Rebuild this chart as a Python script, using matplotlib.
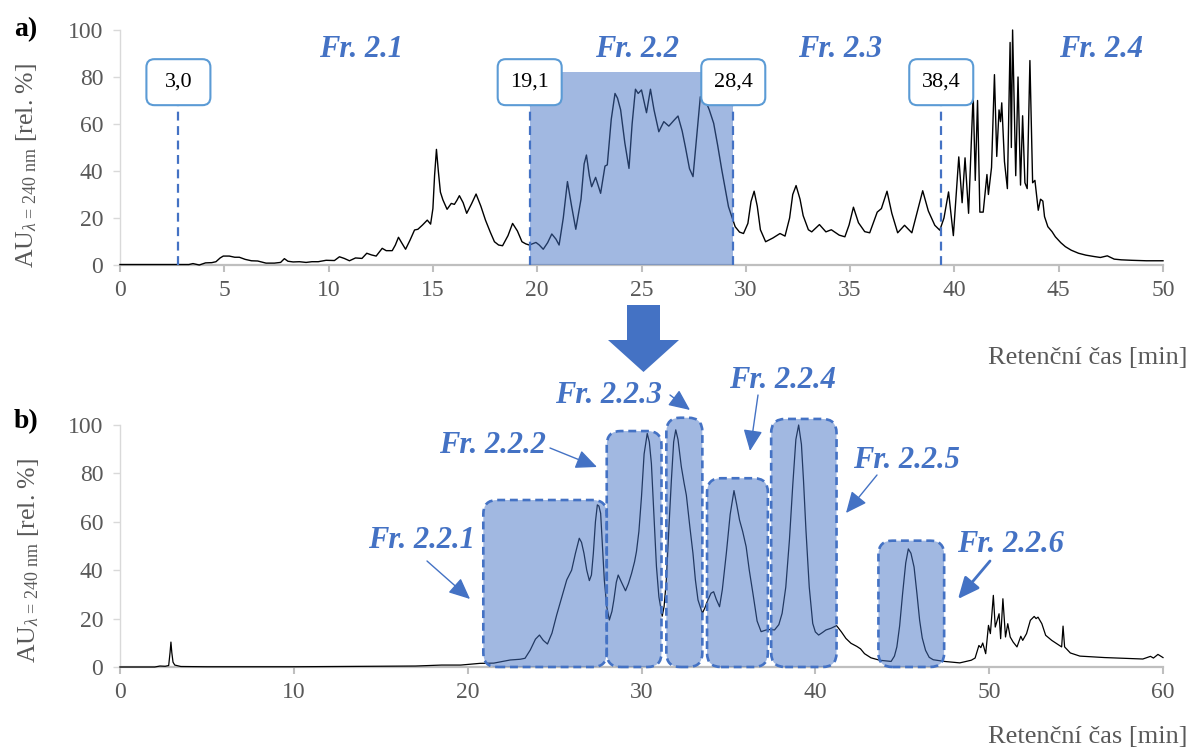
import matplotlib
matplotlib.use('Agg')
import matplotlib.pyplot as plt
from matplotlib.patches import FancyBboxPatch, Rectangle, Polygon

# ---------------- data ----------------
# Panel a: chromatogram (time [min], rel. %)
ta = [0, 2.0, 3.3, 3.5, 3.8, 4.1, 4.4, 4.6, 4.8, 4.95, 5.24, 5.5, 5.72, 6.0, 6.3, 6.6, 7.0, 7.4, 7.7,
      7.88, 8.05, 8.3, 8.6, 8.92, 9.2, 9.5, 9.88, 10.28, 10.52, 10.75, 11.0, 11.29, 11.6, 11.83, 12.05,
      12.28, 12.57, 12.76, 13.05, 13.2, 13.35, 13.5, 13.69, 13.9, 14.12, 14.28, 14.5, 14.73, 14.89, 15.0,
      15.08, 15.17, 15.26, 15.36, 15.48, 15.68, 15.88, 16.03, 16.15, 16.27, 16.45, 16.62, 16.85, 17.07,
      17.3, 17.52, 17.75, 17.95, 18.15, 18.34, 18.6, 18.82, 19.05, 19.27, 19.45, 19.62, 19.94, 20.1,
      20.29, 20.5, 20.7, 20.9, 21.05, 21.25, 21.45, 21.65, 21.85, 22.1, 22.25, 22.36, 22.5, 22.61, 22.8,
      23.04, 23.25, 23.36, 23.55, 23.73, 23.85, 24.0, 24.2, 24.4, 24.55, 24.71, 24.84, 25.0, 25.24, 25.43,
      25.6, 25.83, 26.07, 26.31, 26.55, 26.75, 26.95, 27.1, 27.3, 27.47, 27.65, 27.82, 28.06, 28.25,
      28.46, 28.65, 28.85, 29.17, 29.49, 29.7, 29.89, 30.1, 30.25, 30.4, 30.55, 30.7, 30.95, 31.3, 31.64,
      31.88, 32.1, 32.25, 32.41, 32.6, 32.75, 33.0, 33.16, 33.53, 33.84, 34.1, 34.48, 34.75, 34.95, 35.16,
      35.4, 35.7, 35.94, 36.3, 36.5, 36.77, 37.0, 37.28, 37.61, 37.96, 38.2, 38.48, 38.75, 39.06, 39.3,
      39.5, 39.72, 39.95, 40.21, 40.37, 40.51, 40.68, 40.9, 41.0, 41.11, 41.22, 41.38, 41.56, 41.63,
      41.78, 41.92, 42.03, 42.14, 42.21, 42.27, 42.4, 42.54, 42.67, 42.73, 42.79, 42.94, 43.05, 43.17,
      43.27, 43.38, 43.49, 43.62, 43.75, 43.86, 44.02, 44.13, 44.24, 44.32, 44.48, 44.68, 44.84, 45.1,
      45.32, 45.6, 45.95, 46.3, 46.7, 47.0, 47.33, 47.66, 48.0, 48.5, 49.2, 50.0]
ya = [0.2, 0.2, 0.2, 0.6, 0.0, 0.9, 1.0, 1.4, 3.0, 3.8, 3.8, 3.3, 3.3, 2.4, 1.8, 1.7, 0.8, 0.8, 1.1,
      2.7, 1.6, 1.3, 1.4, 1.1, 1.4, 1.4, 2.0, 1.9, 3.5, 2.8, 1.8, 3.0, 2.8, 5.0, 4.3,
      3.8, 7.1, 6.1, 6.1, 8.5, 11.8, 9.5, 6.7, 10.5, 14.9, 15.2, 17.0, 19.1, 17.4, 24,
      38, 49.2, 40, 31, 27.7, 23.7, 26.2, 25.8, 27.5, 29.5, 26.5, 22, 26, 30.2,
      25, 19.1, 14, 9.9, 8.5, 8.2, 12.5, 17.7, 14.5, 9.9, 9.0, 8.5, 9.6, 8.5,
      6.7, 9.5, 13.2, 11, 8.5, 20, 35.5, 25, 15.2, 28, 43, 46.8, 38, 33.3, 37.3,
      30.5, 42.1, 42.6, 62, 73, 71, 66, 52, 41.1, 60, 74.8, 73, 74.5, 64.8, 74.8,
      66, 56.7, 61, 59.1, 61.5, 63.4, 57, 50.4, 41, 37.6, 55, 71.6, 70.2, 66,
      60.3, 51, 40.4, 24.8, 16.3, 14, 13.4, 17.7, 27, 31.4, 25, 15, 9.9, 11.5, 13.4,
      12.3, 20, 30, 33.8, 28, 21, 15, 14.1, 17.2, 14.1, 15, 12.7, 12, 17, 24.6,
      18, 14.2, 13.7, 22.5, 24, 31.4, 22, 13.7, 16.9, 13.7, 22, 31.6, 23, 16.9, 14.8,
      20, 31.1, 12.5, 46, 26.5, 45.6, 22, 73, 36, 70, 22.5, 22.5, 38.5, 30,
      41.5, 81, 46.2, 66, 61, 69, 44, 32.5, 94.7, 50, 100, 38, 80, 34,
      63.5, 35, 32.5, 87, 35, 36, 23.3, 28, 27.2, 20.6, 16.3, 14.2, 12, 9.5,
      7.8, 6.3, 5, 4.2, 3.6, 3.2, 3.9, 2.5, 2.2, 2.0, 1.8, 1.8]

# Panel a fraction cut points (dashed lines) and their labels
cut_times = [2.8, 19.64, 29.4, 39.37]
cut_labels = ['3,0', '19,1', '28,4', '38,4']
frac_a_names = ['Fr. 2.1', 'Fr. 2.2', 'Fr. 2.3', 'Fr. 2.4']
collected_a = (19.64, 29.4, 82)  # start, end, height of shaded fraction

# Panel b: chromatogram
tb = [0, 2.0, 2.3, 2.6, 2.8, 2.88, 2.93, 2.98, 3.05, 3.15, 3.5, 5, 10, 15, 17, 18.5, 19.6, 20.7, 21.5,
      22.45, 23.02, 23.3, 23.6, 23.9, 24.13, 24.35, 24.59, 24.85, 25.12, 25.4, 25.7, 25.98, 26.2, 26.42,
      26.55, 26.69, 26.85, 27.0, 27.12, 27.23, 27.35, 27.46, 27.55, 27.65, 27.75, 27.86, 28.0, 28.15,
      28.3, 28.41, 28.55, 28.66, 28.85, 29.08, 29.25, 29.43, 29.6, 29.71, 29.85, 30.0, 30.15, 30.33,
      30.45, 30.57, 30.7, 30.86, 31.0, 31.19, 31.3, 31.43, 31.58, 31.72, 31.85, 31.97, 32.1, 32.29,
      32.45, 32.58, 32.78, 32.96, 33.1, 33.25, 33.5, 33.65, 33.82, 34.0, 34.15, 34.3, 34.49, 34.65,
      34.88, 35.1, 35.32, 35.48, 35.64, 35.82, 36.02, 36.2, 36.41, 36.65, 36.88, 37.17, 37.4, 37.65,
      37.9, 38.09, 38.3, 38.51, 38.7, 38.88, 39.04, 39.2, 39.32, 39.46, 39.65, 39.85, 40.0, 40.19,
      40.4, 40.61, 40.9, 41.22, 41.5, 41.76, 42.05, 42.39, 42.6, 42.83, 43.2, 43.7, 44.36, 44.55,
      44.69, 44.85, 45.02, 45.2, 45.35, 45.5, 45.68, 45.85, 46.0, 46.15, 46.34, 46.55, 46.78, 47.43,
      48.31, 48.97, 49.19, 49.41, 49.52, 49.63, 49.8, 49.96, 50.07, 50.24, 50.35, 50.46, 50.57, 50.66,
      50.79, 50.94, 51.07, 51.21, 51.38, 51.6, 51.82, 51.93, 52.15, 52.37, 52.59, 52.7, 52.81, 53.03,
      53.25, 53.6, 53.9, 54.17, 54.25, 54.34, 54.67, 55.22, 56.64, 58.84, 59.28, 59.45, 59.71, 60.0]
yb = [0, 0, 0.4, 0.3, 0.6, 6, 10.3, 6, 2, 0.8, 0.2, 0.1, 0.1, 0.3, 0.4, 0.8, 0.8, 1.5, 1.6,
      2.9, 3.2, 3.6, 7, 11.5, 13.2, 11, 9.5, 14, 21.5, 28.5, 36, 40, 47, 53.2,
      51.5, 47, 40, 35.7, 38, 47, 60, 67, 66.5, 63.5, 50, 36, 25, 19.4,
      23, 27.7, 35, 38, 35, 31.5, 34.5, 38.7, 43.5, 47.7, 56, 70.4, 88, 96.5,
      93, 84, 65, 41.5, 29, 21, 25, 36, 58, 77.3, 93, 98, 94, 82.8,
      76, 71, 58, 47, 36, 27.7, 22.2, 24.5, 27.7, 30.5, 31.1, 28, 24.9, 32,
      47, 63, 72.9, 67, 60.7, 56, 49.7, 40, 30.4, 19, 14.6, 15.3, 15.5, 15.3,
      17.5, 22.2, 33, 52.5, 75, 94, 100, 92, 77, 56.6, 33, 18, 14.5, 13.2,
      14.2, 15.3, 16, 17.1, 14.5, 11.8, 9.8, 8.5, 7.5, 5.5, 3.8, 2.8, 2.3, 4.5,
      8.3, 17, 30.3, 43, 48.8, 47, 41.3, 30, 19.3, 12, 6.9, 4, 3, 2.3,
      1.7, 2.8, 3.7, 8.9, 8, 9.9, 5.5, 17.2, 13.8, 29.6, 16.5, 19.3, 22, 11.7,
      28.2, 12.4, 17.9, 12.4, 10.3, 8.3, 12.7, 11, 13.8, 19.3, 20.9, 20, 20.6, 17.9,
      13.1, 11, 9.6, 8.3, 16.9, 8.3, 5.8, 4.5, 3.9, 3.3, 4.4, 3.7, 5.2, 3.9]

# Panel b collected sub-fractions (start, end, top)
frac_b_names = ['Fr. 2.2.1', 'Fr. 2.2.2', 'Fr. 2.2.3', 'Fr. 2.2.4', 'Fr. 2.2.5', 'Fr. 2.2.6']
frac_b_start = [20.9, 28.0, 31.43, 33.77, 37.46, 43.63]
frac_b_end = [28.0, 31.15, 33.5, 37.27, 41.22, 47.41]
frac_b_top = [69, 97.5, 103, 78, 102.5, 52.2]

xticks_a = list(range(0, 51, 5))
xticks_b = list(range(0, 61, 10))
yticks = list(range(0, 101, 20))

# ---------------- style ----------------
W, H = 1189, 747
plt.rcParams['font.family'] = ['Liberation Serif', 'DejaVu Serif']
plt.rcParams['mathtext.fontset'] = 'custom'
plt.rcParams['mathtext.rm'] = 'Liberation Serif'
plt.rcParams['mathtext.it'] = 'Liberation Serif:italic'
plt.rcParams['mathtext.bf'] = 'Liberation Serif:bold'

BLUE = '#4472C4'
FILL = (0x44 / 255, 0x72 / 255, 0xC4 / 255, 0.5)
GRAY = '#595959'

fig = plt.figure(figsize=(W / 100, H / 100), dpi=100)


def fpos(l, t, r, b):
    return [l / W, 1 - b / H, (r - l) / W, (b - t) / H]


def fxy(px, py):
    return (px / W, 1 - py / H)


ax1 = fig.add_axes(fpos(120, 30, 1163, 265))
ax2 = fig.add_axes(fpos(120, 425, 1163, 667))


def style(ax, xt):
    ax.set_xlim(xt[0], xt[-1])
    ax.set_ylim(0, 100)
    ax.set_xticks(xt)
    ax.set_yticks(yticks)
    for s in ['top', 'right']:
        ax.spines[s].set_visible(False)
    ax.spines['left'].set_color('#D9D9D9')
    ax.spines['left'].set_linewidth(1.0)
    ax.spines['bottom'].set_color('#BFBFBF')
    ax.spines['bottom'].set_linewidth(1.6)
    ax.tick_params(axis='x', colors='#BFBFBF', length=5, width=1.5, labelcolor=GRAY,
                   labelsize=17, pad=6)
    ax.tick_params(axis='y', colors='#D9D9D9', length=5, width=1.0, labelcolor=GRAY,
                   labelsize=17, pad=7)
    ax.patch.set_alpha(0)


style(ax1, xticks_a)
style(ax2, xticks_b)


def px_scale(ax, xr, yr):
    pos = ax.get_position()
    return pos.width * W / xr, pos.height * H / yr


# ---------- panel a ----------
ax1.plot(ta, ya, color='black', lw=1.0, zorder=2.7, clip_on=False)
s0, s1, sh = collected_a
ax1.add_patch(Rectangle((s0, 0), s1 - s0, sh, facecolor=FILL, edgecolor='none', zorder=3))

sxa, sya = px_scale(ax1, 50, 100)
bw, bh, rr = 64 / sxa, 46 / sya, 8 / sxa
box_cy = 77.8
for t, lab in zip(cut_times, cut_labels):
    ax1.plot([t, t], [0, box_cy - bh / 2], color=BLUE, lw=1.6, ls=(0, (4, 2.5)), zorder=4,
             clip_on=False)
    p = FancyBboxPatch((t - bw / 2, box_cy - bh / 2), bw, bh,
                       boxstyle='round,pad=0,rounding_size=%f' % rr,
                       mutation_aspect=sxa / sya, facecolor='white', edgecolor='#5B9BD5',
                       lw=1.5, zorder=5, clip_on=False)
    ax1.add_patch(p)
    ax1.text(t, box_cy, lab, ha='center', va='center', fontsize=16, color='black', zorder=6)

for name, cx in zip(frac_a_names, [361, 637, 840, 1101]):
    fig.text(*fxy(cx, 57), name, ha='center', va='baseline', fontsize=22, color=BLUE,
             fontweight='bold', fontstyle='italic')

# ---------- panel b ----------
ax2.plot(tb, yb, color='black', lw=0.9, zorder=2.7, clip_on=False)
sxb, syb = px_scale(ax2, 60, 100)
rb = 14 / sxb
for a, b, top in zip(frac_b_start, frac_b_end, frac_b_top):
    p = FancyBboxPatch((a, 0), b - a, top, boxstyle='round,pad=0,rounding_size=%f' % rb,
                       mutation_aspect=sxb / syb, facecolor=FILL, edgecolor=BLUE, lw=1.9,
                       ls=(0, (3, 1.8)), zorder=3, clip_on=False)
    ax2.add_patch(p)

lab_b = [(421, 548), (492, 453), (608, 403), (782, 388), (906, 468), (1010, 552)]
arr_b = [((427, 561), (470, 599)), ((550, 448), (597, 467)), ((670, 395), (690, 410)),
         ((758, 395), (750, 451)), ((877, 475), (846, 513)), ((990, 561), (958, 599))]
arr_w = [1.0, 1.0, 1.0, 1.0, 1.0, 2.0]
for name, (cx, by), (p0, p1), lw in zip(frac_b_names, lab_b, arr_b, arr_w):
    fig.text(*fxy(cx, by), name, ha='center', va='baseline', fontsize=22, color=BLUE,
             fontweight='bold', fontstyle='italic')
    ax2.annotate('', xy=fxy(*p1), xytext=fxy(*p0), xycoords='figure fraction',
                 textcoords='figure fraction', annotation_clip=False,
                 arrowprops=dict(arrowstyle='-|>,head_length=1.0,head_width=0.45',
                                 mutation_scale=13, color=BLUE, lw=lw, shrinkA=0, shrinkB=0))

# ---------- shared text ----------
ylab = r'AU$_{\lambda\,=\,240\ \mathrm{nm}}$ [rel. %]'
fig.text(*fxy(27, 165), ylab, rotation=90, ha='center', va='center', fontsize=18.5, color=GRAY)
fig.text(*fxy(29, 560), ylab, rotation=90, ha='center', va='center', fontsize=18.5, color=GRAY)
fig.text(*fxy(1187, 364), 'Retenční čas [min]', ha='right', va='baseline', fontsize=19, color=GRAY)
fig.text(*fxy(1187, 743), 'Retenční čas [min]', ha='right', va='baseline', fontsize=19, color=GRAY)
fig.text(*fxy(14, 36), 'a)', ha='left', va='baseline', fontsize=20, fontweight='bold', color='black')
fig.text(*fxy(14, 428), 'b)', ha='left', va='baseline', fontsize=20, fontweight='bold', color='black')

# big down arrow between the panels
arrow_pts = [fxy(x, y) for x, y in [(627, 305), (660, 305), (660, 340), (679, 340),
                                     (643.5, 372), (608, 340), (627, 340)]]
fig.add_artist(Polygon(arrow_pts, closed=True, transform=fig.transFigure,
                       facecolor=BLUE, edgecolor='none'))

fig.savefig('out.png', dpi=100)
